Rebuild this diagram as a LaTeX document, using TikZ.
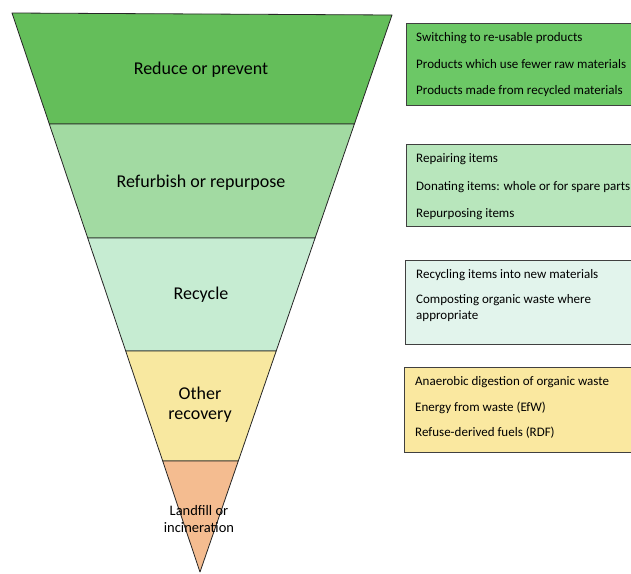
\documentclass[tikz,border=0pt]{standalone}
\usepackage{fontspec}
\setmainfont{Carlito}
\definecolor{bandA}{HTML}{64BE5A}
\definecolor{bandB}{HTML}{A2DAA2}
\definecolor{bandC}{HTML}{C6ECD2}
\definecolor{bandD}{HTML}{F8E8A0}
\definecolor{bandE}{HTML}{F4BC90}
\definecolor{boxA}{HTML}{6CC866}
\definecolor{boxB}{HTML}{B8E6BC}
\definecolor{boxC}{HTML}{E2F4EC}
\definecolor{boxD}{HTML}{FAE8A0}
\begin{document}
\begin{tikzpicture}[x=1pt,y=-1pt,
  band/.style={draw=black!85,line width=0.8pt,line join=round},
  bandlabel/.style={font=\fontsize{18}{20}\selectfont,align=center,text=black,inner sep=0pt},
  infobox/.style={draw=black!75,line width=0.9pt},
  item/.style={font=\fontsize{13}{16}\selectfont,anchor=west,align=left,text=black,inner sep=0pt}]
\clip (0,0) rectangle (631,573);
\fill[white] (0,0) rectangle (631,573);
% bands of the inverted triangle
\filldraw[band,fill=bandA] (12,13) -- (392,15) -- (354.4,124) -- (49.3,124) -- cycle;
\filldraw[band,fill=bandB] (49.3,124) -- (354.4,124) -- (315.1,238) -- (87.7,238) -- cycle;
\filldraw[band,fill=bandC] (87.7,238) -- (315.1,238) -- (276.2,351) -- (125.7,351) -- cycle;
\filldraw[band,fill=bandD] (125.7,351) -- (276.2,351) -- (238.3,461) -- (162.7,461) -- cycle;
\filldraw[band,fill=bandE] (162.7,461) -- (238.3,461) -- (200,572) -- cycle;
\node[bandlabel] (l1) at (201,70) {Reduce or prevent};
\node[bandlabel] (l2) at (201,183) {Refurbish or repurpose};
\node[bandlabel] (l3) at (201,295) {Recycle};
\node[bandlabel] (l4) at (200,405) {Other\\recovery};
\node[bandlabel,font=\fontsize{14.5}{17}\selectfont] (l5) at (199,519) {Landfill or\\incineration};
% info boxes
\filldraw[infobox,fill=boxA] (406,23) rectangle (640,105);
\filldraw[infobox,fill=boxB] (406,144) rectangle (640,226);
\filldraw[infobox,fill=boxC] (405,260) rectangle (640,344);
\filldraw[infobox,fill=boxD] (404,367) rectangle (640,452);
\node[item] (a1) at (416,38) {Switching to re-usable products};
\node[item] (a2) at (416,64) {Products which use fewer raw materials};
\node[item] (a3) at (416,91) {Products made from recycled materials};
\node[item] (b1) at (416,159) {Repairing items};
\node[item] (b2) at (416,187) {Donating items: whole or for spare parts};
\node[item] (b3) at (416,214) {Repurposing items};
\node[item] (c1) at (416,275) {Recycling items into new materials};
\node[item] (c2) at (416,308) {Composting organic waste where\\appropriate};
\node[item] (d1) at (415,382) {Anaerobic digestion of organic waste};
\node[item] (d2) at (415,408) {Energy from waste (EfW)};
\node[item] (d3) at (415,433) {Refuse-derived fuels (RDF)};
\end{tikzpicture}
\end{document}
